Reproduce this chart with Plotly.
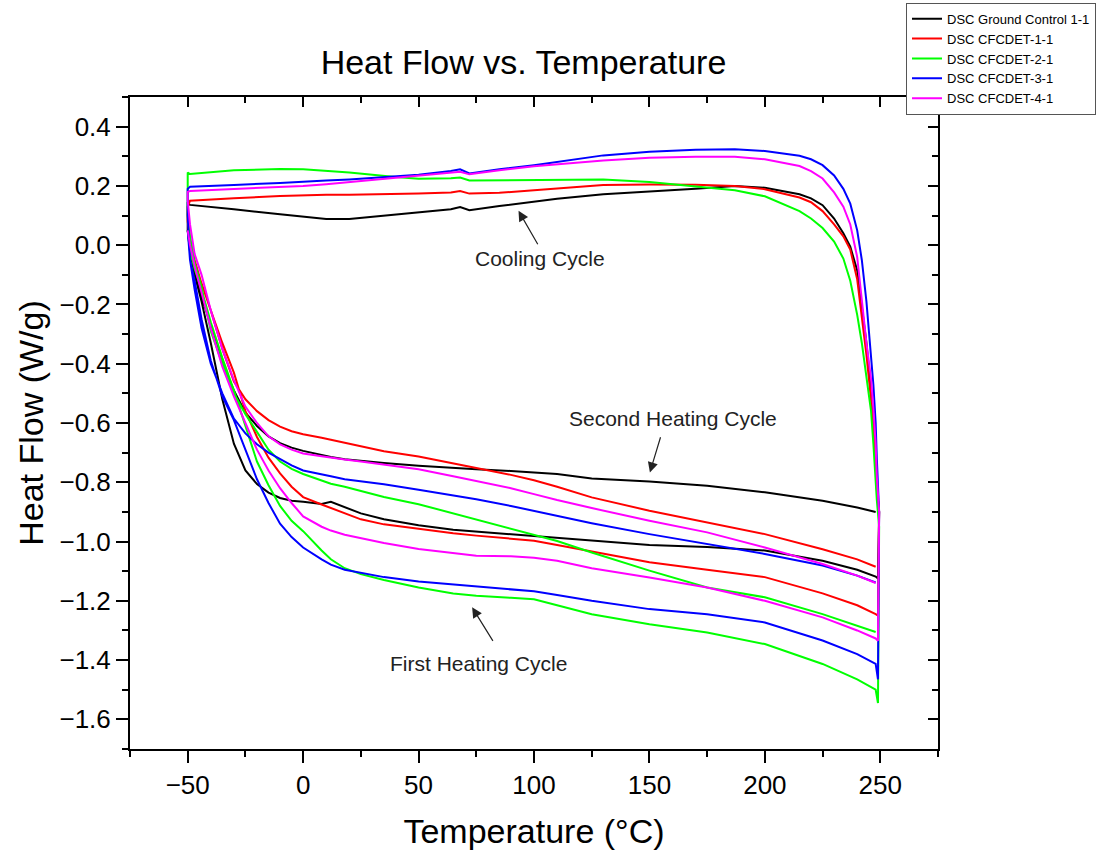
import plotly.graph_objects as go

# ---------------- data ----------------
HEAT_T = [-50, -49, -47, -44, -40, -35, -30, -25, -20, -15, -10, -5, 0, 8, 12, 18, 25, 35,
          50, 65, 75, 90, 100, 110, 125, 150, 175, 200, 225, 240, 248]
HEAT1_END_T = [249]
COOL_T = [249.5, 248.5, 248, 247, 246, 244, 242, 240, 237, 234, 230, 225, 220, 215, 200, 187,
          170, 150, 130, 110, 100, 85, 72, 68, 64, 50, 40, 20, 10, 0, -10, -30, -49, -50]

names = ["DSC Ground Control 1-1", "DSC CFCDET-1-1", "DSC CFCDET-2-1", "DSC CFCDET-3-1", "DSC CFCDET-4-1"]
colors = ["#000000", "#ff0000", "#00ff00", "#0000ff", "#ff00ff"]

# first heating cycle (HEAT_T + end point)
black_h1 = [0.05, -0.02, -0.10, -0.19, -0.33, -0.52, -0.67, -0.76, -0.806, -0.835, -0.853, -0.862, -0.866,
            -0.873, -0.866, -0.885, -0.905, -0.925, -0.945, -0.96, -0.966, -0.975, -0.98, -0.988, -0.997,
            -1.012, -1.018, -1.03, -1.065, -1.095, -1.118, -1.125]
red_h1 = [0.05, 0.0, -0.06, -0.13, -0.22, -0.33, -0.43, -0.56, -0.647, -0.717, -0.77, -0.815, -0.85,
          -0.875, -0.887, -0.905, -0.925, -0.942, -0.958, -0.972, -0.98, -0.99, -0.997, -1.012, -1.033,
          -1.07, -1.095, -1.12, -1.175, -1.215, -1.245, -1.25]
green_h1 = [0.05, -0.02, -0.08, -0.15, -0.26, -0.38, -0.49, -0.61, -0.73, -0.81, -0.88, -0.93, -0.965,
            -1.03, -1.06, -1.09, -1.11, -1.13, -1.155, -1.175, -1.183, -1.19, -1.195, -1.215, -1.245,
            -1.279, -1.307, -1.346, -1.413, -1.465, -1.5, -1.545]
blue_h1 = [0.05, -0.05, -0.12, -0.25, -0.39, -0.51, -0.59, -0.69, -0.79, -0.87, -0.94, -0.985, -1.02,
           -1.06, -1.078, -1.095, -1.105, -1.12, -1.135, -1.145, -1.15, -1.16, -1.168, -1.18, -1.2,
           -1.228, -1.245, -1.273, -1.334, -1.38, -1.413, -1.465]
magenta_h1 = [0.05, 0.0, -0.07, -0.16, -0.28, -0.41, -0.51, -0.60, -0.69, -0.76, -0.82, -0.87, -0.915,
              -0.95, -0.963, -0.977, -0.988, -1.005, -1.025, -1.04, -1.048, -1.05, -1.055, -1.065, -1.09,
              -1.121, -1.155, -1.2, -1.256, -1.3, -1.327, -1.335]

# cooling cycle (COOL_T)
black_cool = [-0.9, -0.82, -0.72, -0.6, -0.5, -0.33, -0.2, -0.085, -0.005, 0.04, 0.09, 0.135, 0.158,
              0.172, 0.194, 0.2, 0.19, 0.182, 0.172, 0.157, 0.148, 0.132, 0.118, 0.129, 0.121, 0.11,
              0.102, 0.088, 0.088, 0.097, 0.104, 0.121, 0.136, 0.14]
red_cool = [-0.9, -0.82, -0.73, -0.62, -0.52, -0.37, -0.235, -0.115, -0.015, 0.03, 0.07, 0.115, 0.145,
            0.161, 0.189, 0.2, 0.204, 0.205, 0.203, 0.19, 0.185, 0.177, 0.174, 0.183, 0.178, 0.174,
            0.172, 0.17, 0.17, 0.168, 0.166, 0.158, 0.15, 0.13]
green_cool = [-0.95, -0.86, -0.78, -0.67, -0.56, -0.44, -0.33, -0.235, -0.12, -0.045, 0.012, 0.058, 0.09,
              0.115, 0.165, 0.185, 0.197, 0.213, 0.222, 0.22, 0.219, 0.217, 0.218, 0.228, 0.226, 0.224,
              0.23, 0.245, 0.25, 0.256, 0.257, 0.253, 0.24, 0.245]
blue_cool = [-0.9, -0.72, -0.6, -0.47, -0.37, -0.19, -0.05, 0.05, 0.14, 0.19, 0.235, 0.27, 0.29,
             0.302, 0.318, 0.324, 0.322, 0.315, 0.303, 0.28, 0.27, 0.256, 0.242, 0.256, 0.25, 0.238,
             0.232, 0.222, 0.218, 0.213, 0.21, 0.203, 0.197, 0.19]
magenta_cool = [-0.9, -0.78, -0.67, -0.55, -0.45, -0.33, -0.18, -0.04, 0.07, 0.13, 0.178, 0.225, 0.25,
                0.267, 0.29, 0.298, 0.298, 0.295, 0.286, 0.274, 0.266, 0.253, 0.239, 0.248, 0.245,
                0.235, 0.228, 0.211, 0.206, 0.2, 0.197, 0.189, 0.183, 0.18]

# second heating cycle (HEAT_T)
black_h2 = [0.05, 0.0, -0.087, -0.17, -0.27, -0.40, -0.49, -0.565, -0.61, -0.645, -0.668, -0.683, -0.694,
            -0.708, -0.715, -0.722, -0.728, -0.735, -0.744, -0.752, -0.756, -0.762, -0.767, -0.772,
            -0.787, -0.797, -0.812, -0.834, -0.862, -0.885, -0.90]
red_h2 = [0.08, 0.02, -0.05, -0.13, -0.22, -0.35, -0.46, -0.52, -0.56, -0.59, -0.612, -0.628, -0.638,
          -0.65, -0.657, -0.667, -0.68, -0.695, -0.713, -0.735, -0.752, -0.775, -0.793, -0.815, -0.851,
          -0.896, -0.936, -0.975, -1.026, -1.06, -1.085]
green_h2 = [0.1, 0.03, -0.06, -0.14, -0.29, -0.40, -0.50, -0.57, -0.63, -0.69, -0.73, -0.755, -0.772,
            -0.795, -0.805, -0.815, -0.83, -0.85, -0.874, -0.905, -0.924, -0.955, -0.975, -0.998, -1.037,
            -1.098, -1.155, -1.188, -1.245, -1.285, -1.305]
blue_h2 = [0.1, -0.05, -0.15, -0.28, -0.40, -0.50, -0.585, -0.635, -0.672, -0.70, -0.722, -0.743, -0.76,
           -0.775, -0.78, -0.79, -0.797, -0.807, -0.825, -0.845, -0.857, -0.88, -0.896, -0.912, -0.938,
           -0.975, -1.009, -1.042, -1.081, -1.115, -1.138]
magenta_h2 = [0.15, 0.07, -0.03, -0.10, -0.22, -0.35, -0.455, -0.545, -0.60, -0.645, -0.672, -0.69,
              -0.703, -0.712, -0.717, -0.723, -0.73, -0.74, -0.756, -0.78, -0.795, -0.82, -0.84, -0.86,
              -0.887, -0.93, -0.969, -1.02, -1.076, -1.115, -1.14]

heat1 = [black_h1, red_h1, green_h1, blue_h1, magenta_h1]
cool = [black_cool, red_cool, green_cool, blue_cool, magenta_cool]
heat2 = [black_h2, red_h2, green_h2, blue_h2, magenta_h2]

# annotation anchors (data units)
ann_labels = ["Cooling Cycle", "Second Heating Cycle", "First Heating Cycle"]
ann_text_xy = [(102.8, -0.046), (160.0, -0.585), (75.9, -1.412)]
ann_arrow_tip = [(93.3, 0.116), (150.2, -0.767), (73.2, -1.222)]
ann_arrow_tail = [(102.0, -0.002), (155.0, -0.643), (82.6, -1.34)]

FONT = "Arial, Liberation Sans, sans-serif"

fig = go.Figure()
for i in range(5):
    xs = HEAT_T + HEAT1_END_T + COOL_T + HEAT_T
    ys = heat1[i] + cool[i] + heat2[i]
    fig.add_trace(go.Scatter(x=xs, y=ys, mode="lines", name=names[i],
                             line=dict(color=colors[i], width=2)))

# dummy trace so mirror axes are drawn
fig.add_trace(go.Scatter(x=[None], y=[None], xaxis="x2", yaxis="y2", showlegend=False, hoverinfo="skip"))

annotations = []
for lab, (tx, ty), (hx, hy), (ax, ay) in zip(ann_labels, ann_text_xy, ann_arrow_tip, ann_arrow_tail):
    annotations.append(dict(x=tx, y=ty, xref="x", yref="y", text=lab, showarrow=False,
                            font=dict(family=FONT, size=21, color="#222222")))
    annotations.append(dict(x=hx, y=hy, ax=ax, ay=ay, xref="x", yref="y", axref="x", ayref="y",
                            text="", showarrow=True, arrowhead=2, arrowsize=1.7, arrowwidth=1.2,
                            arrowcolor="#222222"))

common_axis = dict(showline=True, linecolor="black", linewidth=2, showgrid=False, zeroline=False,
                   tickcolor="black", tickwidth=2, automargin=False)

fig.update_layout(
    width=1105, height=855,
    margin=dict(l=129.5, r=167.3, t=96.7, b=106, autoexpand=False),
    paper_bgcolor="white", plot_bgcolor="white",
    font=dict(family=FONT, color="black"),
    title=dict(text="Heat Flow vs. Temperature", x=0.487, xref="paper", xanchor="center",
               y=1 - 62 / 855, yref="container", yanchor="middle",
               font=dict(family=FONT, size=34, color="black")),
    xaxis=dict(range=[-75, 275], tick0=0, dtick=50, ticks="outside", ticklen=12,
               tickfont=dict(family=FONT, size=26, color="black"),
               minor=dict(ticks="outside", ticklen=6, dtick=25, tick0=0, tickcolor="black", tickwidth=2),
               title=dict(text="Temperature (°C)", font=dict(family=FONT, size=34, color="black"), standoff=20),
               **common_axis),
    yaxis=dict(range=[-1.7, 0.5], tick0=0, dtick=0.2, tickformat=".1f", ticks="outside", ticklen=12,
               tickfont=dict(family=FONT, size=26, color="black"),
               minor=dict(ticks="outside", ticklen=6, dtick=0.1, tick0=0, tickcolor="black", tickwidth=2),
               title=dict(text="Heat Flow (W/g)", font=dict(family=FONT, size=34, color="black"), standoff=6),
               **common_axis),
    xaxis2=dict(overlaying="x", side="top", range=[-75, 275], tick0=0, dtick=50, ticks="inside",
                ticklen=10, showticklabels=False,
                minor=dict(ticks="inside", ticklen=6, dtick=25, tick0=0, tickcolor="black", tickwidth=2),
                **common_axis),
    yaxis2=dict(overlaying="y", side="right", range=[-1.7, 0.5], tick0=0, dtick=0.2, ticks="inside",
                ticklen=10, showticklabels=False,
                minor=dict(ticks="inside", ticklen=6, dtick=0.1, tick0=0, tickcolor="black", tickwidth=2),
                **common_axis),
    legend=dict(x=906 / 1105, y=1 - 2.7 / 855, xref="container", yref="container",
                xanchor="left", yanchor="top",
                bgcolor="white", bordercolor="#555555", borderwidth=1, itemwidth=30,
                font=dict(family=FONT, size=13, color="black"), tracegroupgap=0),
    annotations=annotations,
    showlegend=True,
)

fig.write_html("out.html")
